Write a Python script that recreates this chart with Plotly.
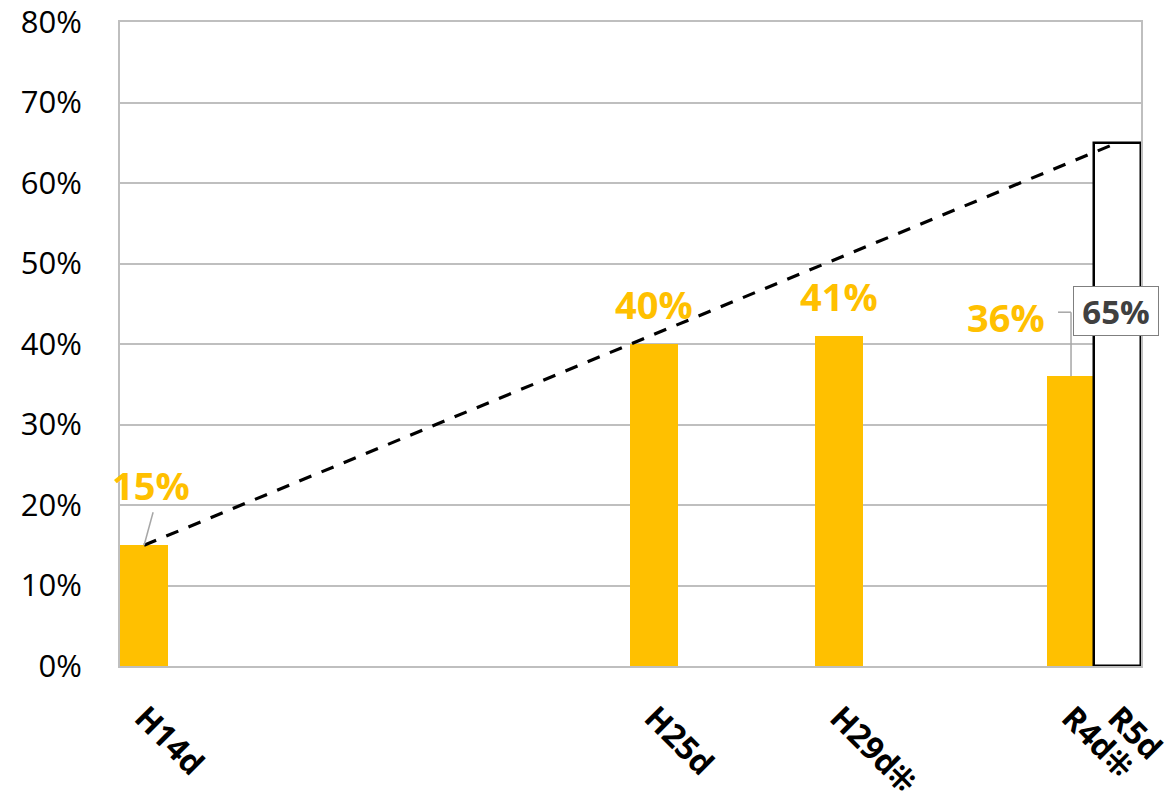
import plotly.graph_objects as go

years = [2002, 2013, 2017, 2022]
labels_yr = ["H14d", "H25d", "H29d⁜", "R4d⁜"]
values = [15, 40, 41, 36]
target_year = 2023
target_label = "R5d"
target_value = 65
gold = "#FFC000"

tick_vals = years + [target_year]
tick_text = labels_yr + [target_label]

fig = go.Figure()
fig.add_trace(go.Bar(x=years, y=values, width=1.03, marker=dict(color=gold, line=dict(width=0)), showlegend=False))
fig.add_trace(go.Bar(x=[target_year], y=[target_value], width=1.0,
                     marker=dict(color="white", line=dict(color="black", width=2.5)), showlegend=False))
fig.add_trace(go.Scatter(x=[years[0], target_year], y=[values[0], target_value], mode="lines",
                         line=dict(color="black", width=3.2, dash="13px,11px"), showlegend=False))

lab_font = dict(family="Open Sans", size=38, color=gold, weight="bold")
# 15% label with leader
fig.add_annotation(x=years[0], y=values[0], text="15%", showarrow=False, font=lab_font,
                   xshift=7, yshift=60)
fig.add_shape(type="line", xref="x", yref="y", xsizemode="pixel", ysizemode="pixel",
              xanchor=years[0], yanchor=values[0], x0=0, y0=0, x1=9, y1=33,
              line=dict(color="#A6A6A6", width=1.5))
# 40% and 41%
for i in (1, 2):
    fig.add_annotation(x=years[i], y=values[i], text=f"{values[i]}%", showarrow=False, font=lab_font,
                       yanchor="bottom", yshift=12)
# 36% with elbow leader
fig.add_annotation(x=years[3], y=values[3], text="36%", showarrow=False, font=lab_font,
                   xshift=-65, yshift=59)
fig.add_shape(type="line", xref="x", yref="y", ysizemode="pixel", yanchor=values[3],
              x0=years[3], x1=years[3], y0=0, y1=64, line=dict(color="#A6A6A6", width=1.5))
fig.add_shape(type="line", xref="x", yref="y", xsizemode="pixel", ysizemode="pixel",
              xanchor=years[3], yanchor=values[3], x0=-13, x1=0, y0=64, y1=64,
              line=dict(color="#A6A6A6", width=1.5))
# 65% boxed label
fig.add_annotation(x=target_year, y=target_value, text="65%", showarrow=False,
                   font=dict(family="Open Sans", size=33, color="#404040", weight="bold"),
                   bgcolor="white", bordercolor="#7F7F7F", borderwidth=1, borderpad=0,
                   width=84, height=48, xshift=-1, yshift=-168)

fig.update_layout(
    width=1169, height=801, margin=dict(l=120, r=28, t=22, b=135),
    plot_bgcolor="white", paper_bgcolor="white", bargap=0,
    font=dict(family="Open Sans", color="black"),
    xaxis=dict(range=[2001.48, 2023.51], tickvals=tick_vals, ticktext=tick_text, tickangle=45,
               tickfont=dict(size=32, color="black", weight="bold"), showgrid=False,
               zeroline=False, showline=True, mirror=True, linecolor="#BFBFBF", linewidth=2,
               ticks="", automargin=False, ticklabelstandoff=18, ticklabeloverflow="allow"),
    yaxis=dict(range=[0, 80], dtick=10, ticksuffix="%", tickfont=dict(size=31, color="black"),
               showgrid=True, gridcolor="#BFBFBF", gridwidth=2, zeroline=False,
               showline=True, mirror=True, linecolor="#BFBFBF", linewidth=2,
               ticklabelstandoff=30, automargin=False, ticklabeloverflow="allow"),
)
fig.write_html("out.html")
